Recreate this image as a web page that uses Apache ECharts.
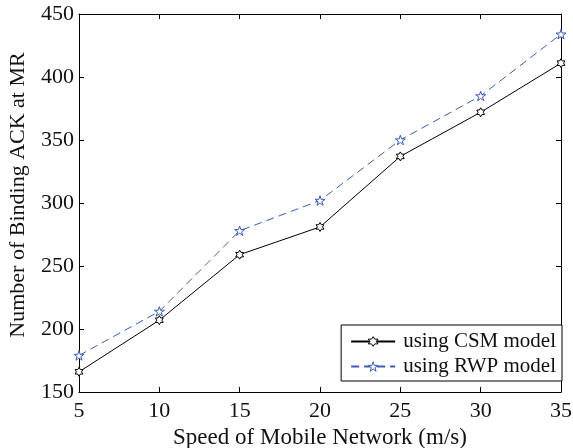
<!DOCTYPE html>
<html>
<head>
<meta charset="utf-8">
<script src="https://cdn.jsdelivr.net/npm/echarts@6/dist/echarts.min.js"></script>
<style>html,body{margin:0;padding:0;background:#fff}#c{width:573px;height:448px}</style>
</head>
<body>
<div id="c"></div>
<script>
const speeds = [5, 10, 15, 20, 25, 30, 35];
const csmValues = [166, 207, 259, 281, 337, 372, 411];
const rwpValues = [179, 214, 278, 302, 350, 385, 434];
const seriesNames = ['using CSM model', 'using RWP model'];
const xTitle = 'Speed of Mobile Network (m/s)';
const yTitle = 'Number of Binding ACK at MR';

const hexagram = 'path://M0 -100 L28.87 -50 L86.6 -50 L57.7 0 L86.6 50 L28.87 50 L0 100 L-28.87 50 L-86.6 50 L-57.7 0 L-86.6 -50 L-28.87 -50 Z';
const pentagram = 'path://M0 -100 L22.45 -30.9 L95.1 -30.9 L36.3 11.8 L58.8 80.9 L0 38.2 L-58.8 80.9 L-36.3 11.8 L-95.1 -30.9 L-22.45 -30.9 Z';
const font = 'Liberation Serif';
const blue = '#3b5cb8';

const chart = echarts.init(document.getElementById('c'));
const axisCommon = {
  axisLine: {show: true, lineStyle: {color: '#000', width: 1}},
  axisTick: {show: true, inside: true, length: 5, lineStyle: {color: '#000'}},
  splitLine: {show: false}
};
chart.setOption({
  backgroundColor: '#fff',
  animation: false,
  grid: {left: 79, right: 12, top: 14, bottom: 56, containLabel: false, outerBoundsMode: 'none'},
  legend: {
    right: 11, top: 325,
    orient: 'vertical',
    backgroundColor: '#fff',
    borderColor: '#000', borderWidth: 1, borderRadius: 0,
    padding: [6, 6, 4, 9],
    itemWidth: 44, itemHeight: 12, itemGap: 4,
    textStyle: {fontFamily: font, fontSize: 21, color: '#111', padding: [0, 0, 0, 3]},
    data: [
      {name: seriesNames[0], itemStyle: {color: '#fff', borderColor: '#000', borderWidth: 1}},
      {name: seriesNames[1], itemStyle: {color: '#fff', borderColor: blue, borderWidth: 1}}
    ]
  },
  xAxis: [
    Object.assign({}, axisCommon, {
      type: 'value', min: 5, max: 35, interval: 5,
      name: xTitle, nameLocation: 'middle', nameGap: 29,
      nameTextStyle: {fontFamily: font, fontSize: 23, color: '#111'},
      axisLabel: {fontFamily: font, fontSize: 22, color: '#111', margin: 8}
    }),
    Object.assign({}, axisCommon, {
      type: 'value', min: 5, max: 35, interval: 5, position: 'top',
      axisLabel: {show: false}
    })
  ],
  yAxis: [
    Object.assign({}, axisCommon, {
      type: 'value', min: 150, max: 450, interval: 50,
      name: yTitle, nameLocation: 'middle', nameGap: 50,
      nameTextStyle: {fontFamily: font, fontSize: 22, color: '#111', padding: [0, 0, 0, 16]},
      axisLabel: {fontFamily: font, fontSize: 22, color: '#111', margin: 5}
    }),
    Object.assign({}, axisCommon, {
      type: 'value', min: 150, max: 450, interval: 50, position: 'right',
      axisLabel: {show: false}
    })
  ],
  series: [
    {
      name: seriesNames[0], type: 'line',
      data: speeds.map((s, i) => [s, csmValues[i]]),
      symbol: hexagram, symbolSize: 9, symbolKeepAspect: true,
      lineStyle: {color: '#000', width: 1, type: 'solid'},
      itemStyle: {color: '#fff', borderColor: '#000', borderWidth: 1},
      emphasis: {disabled: true}
    },
    {
      name: seriesNames[1], type: 'line',
      data: speeds.map((s, i) => [s, rwpValues[i]]),
      symbol: pentagram, symbolSize: 10, symbolKeepAspect: true,
      lineStyle: {color: blue, width: 1, type: [8, 5]},
      itemStyle: {color: '#fff', borderColor: blue, borderWidth: 1},
      emphasis: {disabled: true}
    }
  ]
});
</script>
</body>
</html>
